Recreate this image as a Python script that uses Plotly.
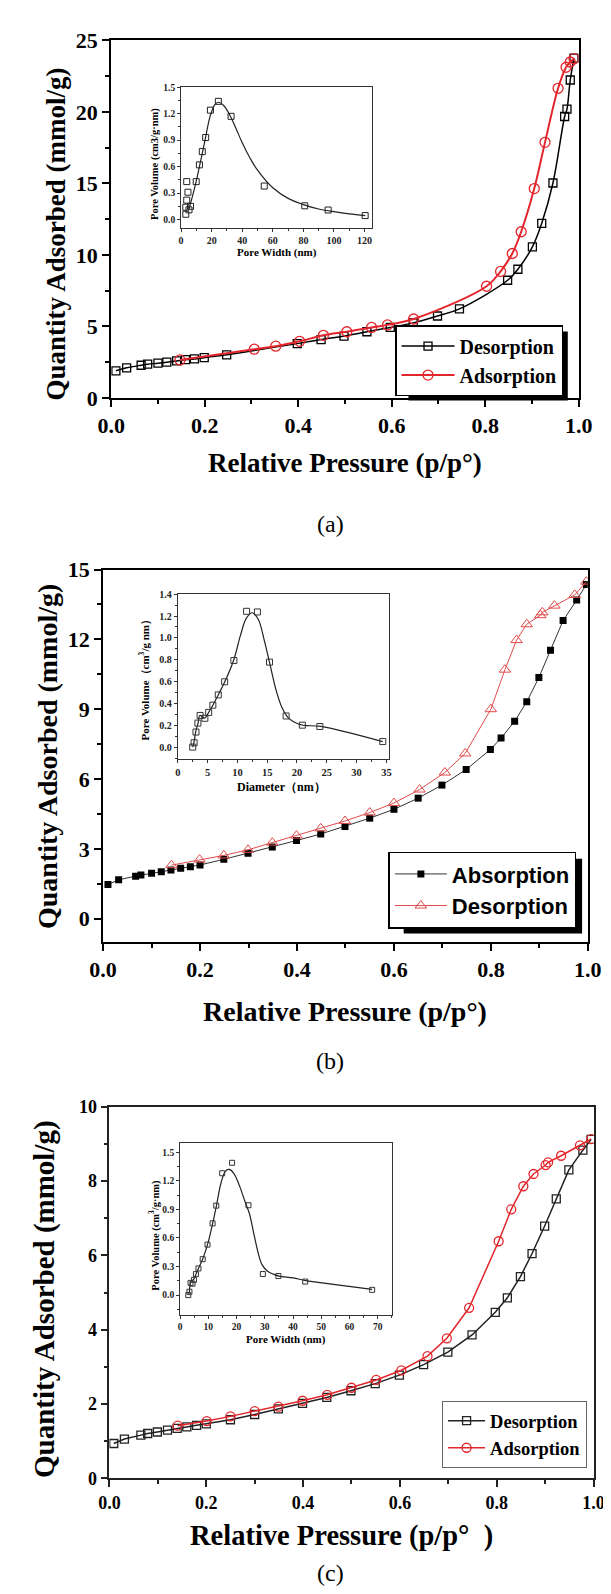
import plotly.graph_objects as go

W, H = 611, 1594

# ---------------- Panel (a) data ----------------
A_DES_X = [0.010, 0.033, 0.064, 0.078, 0.100, 0.119, 0.140, 0.159, 0.178, 0.199, 0.247,
           0.398, 0.449, 0.498, 0.547, 0.597, 0.646, 0.698, 0.745, 0.848, 0.870, 0.901,
           0.921, 0.945, 0.970, 0.975, 0.982, 0.990]
A_DES_Y = [1.90, 2.11, 2.29, 2.36, 2.43, 2.50, 2.59, 2.68, 2.73, 2.82, 3.02,
           3.80, 4.08, 4.33, 4.63, 4.93, 5.25, 5.73, 6.23, 8.23, 9.00, 10.56,
           12.21, 15.03, 19.68, 20.19, 22.23, 23.76]
A_ADS_X = [0.147, 0.306, 0.352, 0.403, 0.454, 0.504, 0.557, 0.591, 0.647, 0.803, 0.833,
           0.858, 0.877, 0.905, 0.928, 0.956, 0.973, 0.982, 0.990]
A_ADS_Y = [2.66, 3.41, 3.62, 3.96, 4.38, 4.63, 4.93, 5.11, 5.52, 7.81, 8.85,
           10.10, 11.62, 14.64, 17.87, 21.65, 23.12, 23.49, 23.72]
A_IN_X = [3.1, 3.1, 3.7, 3.7, 4.5, 5.2, 6.2, 9.9, 12.0, 13.9, 16.1, 19.2, 24.4, 32.7,
          54.4, 80.9, 96.2, 120.4]
A_IN_Y = [0.06, 0.14, 0.22, 0.43, 0.31, 0.11, 0.15, 0.43, 0.62, 0.77, 0.93, 1.24, 1.34,
          1.17, 0.38, 0.156, 0.108, 0.045]
A_FIT_X = [5.2, 8, 10, 12, 14, 16, 19, 22, 24.5, 28, 32, 36, 40, 45, 50, 60, 70, 80, 90,
           100, 110, 120.5]
A_FIT_Y = [0.12, 0.30, 0.44, 0.60, 0.76, 0.93, 1.17, 1.30, 1.33, 1.29, 1.18, 1.03, 0.87,
           0.70, 0.56, 0.36, 0.24, 0.17, 0.12, 0.09, 0.065, 0.045]

# ---------------- Panel (b) data ----------------
B_ABS_X = [0.010, 0.032, 0.067, 0.078, 0.100, 0.120, 0.140, 0.160, 0.180, 0.200, 0.249,
           0.299, 0.349, 0.399, 0.449, 0.499, 0.550, 0.600, 0.650, 0.699, 0.749, 0.799,
           0.821, 0.849, 0.874, 0.899, 0.923, 0.949, 0.977, 0.997]
B_ABS_Y = [1.47, 1.67, 1.83, 1.88, 1.95, 2.02, 2.09, 2.17, 2.23, 2.31, 2.55,
           2.81, 3.08, 3.36, 3.64, 3.96, 4.32, 4.70, 5.18, 5.74, 6.41, 7.27,
           7.76, 8.48, 9.32, 10.36, 11.53, 12.81, 13.69, 14.36]
B_DES_X = [0.141, 0.199, 0.249, 0.299, 0.349, 0.399, 0.449, 0.499, 0.550, 0.600, 0.653,
           0.705, 0.747, 0.800, 0.829, 0.853, 0.874, 0.902, 0.906, 0.931, 0.973, 0.997]
B_DES_Y = [2.30, 2.54, 2.72, 2.96, 3.27, 3.57, 3.88, 4.20, 4.56, 4.97, 5.55,
           6.28, 7.10, 9.00, 10.70, 11.97, 12.65, 13.04, 13.16, 13.45, 13.91, 14.48]
B_IN_X = [2.5, 2.73, 3.05, 3.37, 3.74, 4.54, 5.18, 5.88, 6.79, 7.86, 9.41, 11.54, 13.36,
          15.39, 18.17, 20.9, 23.84, 34.4]
B_IN_Y = [0.0, 0.04, 0.138, 0.22, 0.29, 0.264, 0.318, 0.384, 0.478, 0.598, 0.793, 1.243,
          1.237, 0.778, 0.285, 0.201, 0.189, 0.051]
B_FIT_X = [2.5, 2.7, 3.0, 3.4, 3.7, 4.5, 5.2, 5.9, 6.8, 7.9, 9.4, 10.5, 11.5, 12.5, 13.5,
           14.5, 15.5, 16.5, 17.5, 18.5, 19.5, 21, 24, 34.4]
B_FIT_Y = [0.0, 0.04, 0.14, 0.22, 0.29, 0.265, 0.32, 0.385, 0.48, 0.60, 0.80, 1.02, 1.18,
           1.23, 1.17, 0.98, 0.75, 0.52, 0.36, 0.27, 0.23, 0.20, 0.19, 0.05]

# ---------------- Panel (c) data ----------------
C_DES_X = [0.009, 0.031, 0.065, 0.079, 0.099, 0.120, 0.140, 0.160, 0.180, 0.200, 0.250,
           0.300, 0.349, 0.399, 0.449, 0.499, 0.549, 0.599, 0.649, 0.699, 0.749, 0.797,
           0.822, 0.849, 0.873, 0.899, 0.923, 0.949, 0.978, 0.995]
C_DES_Y = [0.94, 1.06, 1.165, 1.21, 1.25, 1.30, 1.35, 1.39, 1.43, 1.47, 1.58,
           1.72, 1.87, 2.02, 2.18, 2.36, 2.55, 2.78, 3.06, 3.40, 3.86, 4.47,
           4.86, 5.43, 6.05, 6.79, 7.52, 8.30, 8.83, 9.12]
C_ADS_X = [0.141, 0.201, 0.250, 0.300, 0.349, 0.399, 0.450, 0.500, 0.551, 0.603, 0.657,
           0.697, 0.743, 0.804, 0.830, 0.855, 0.876, 0.901, 0.906, 0.933, 0.972, 0.995]
C_ADS_Y = [1.42, 1.545, 1.67, 1.81, 1.93, 2.09, 2.25, 2.44, 2.65, 2.91, 3.29,
           3.77, 4.59, 6.38, 7.24, 7.86, 8.19, 8.43, 8.50, 8.68, 8.96, 9.13]
C_IN_X = [2.9, 3.3, 3.7, 4.4, 4.9, 5.6, 6.5, 8.0, 9.7, 11.5, 12.8, 14.9, 18.4, 24.2, 29.3,
          34.8, 44.3, 68.0]
C_IN_Y = [0.0, 0.035, 0.128, 0.12, 0.16, 0.22, 0.28, 0.377, 0.53, 0.754, 0.94, 1.28, 1.39,
          0.944, 0.221, 0.20, 0.142, 0.055]
C_FIT_X = [3, 3.3, 3.7, 4.9, 5.6, 6.5, 8, 9.7, 11.5, 12.8, 14.5, 16, 17.3, 19, 21, 23,
           24.5, 26, 27.5, 29, 31, 33, 35, 40, 45, 55, 68]
C_FIT_Y = [0.0, 0.04, 0.13, 0.17, 0.22, 0.28, 0.38, 0.53, 0.75, 0.93, 1.18, 1.30, 1.32,
           1.28, 1.15, 0.98, 0.86, 0.66, 0.46, 0.32, 0.25, 0.22, 0.20, 0.18, 0.15, 0.11, 0.06]

RED = "#e3262b"
SERIF = "Liberation Serif"
SANS = "Liberation Sans"


def px_x(v):
    return v / W


def px_y(v):
    return 1 - v / H


def dom_x(a, b):
    return [px_x(a), px_x(b)]


def dom_y(top, bottom):
    return [px_y(bottom), px_y(top)]


fig = go.Figure()

# ---- main traces ----
fig.add_trace(go.Scatter(x=A_DES_X, y=A_DES_Y, name="Desorption", mode="lines+markers",
                         line=dict(color="black", width=1.5, shape="spline"),
                         marker=dict(symbol="square-open", size=8, color="black", line=dict(width=1.3)),
                         xaxis="x", yaxis="y", legend="legend"))
fig.add_trace(go.Scatter(x=A_ADS_X, y=A_ADS_Y, name="Adsorption", mode="lines+markers",
                         line=dict(color=RED, width=2, shape="spline"),
                         marker=dict(symbol="circle-open", size=10, color=RED, line=dict(width=1.3)),
                         xaxis="x", yaxis="y", legend="legend"))
fig.add_trace(go.Scatter(x=A_FIT_X, y=A_FIT_Y, mode="lines", showlegend=False,
                         line=dict(color="#222", width=1.2, shape="spline"),
                         xaxis="x2", yaxis="y2"))
fig.add_trace(go.Scatter(x=A_IN_X, y=A_IN_Y, mode="markers", showlegend=False,
                         marker=dict(symbol="square-open", size=6, color="#222", line=dict(width=1)),
                         xaxis="x2", yaxis="y2"))

fig.add_trace(go.Scatter(x=B_ABS_X, y=B_ABS_Y, name="Absorption", mode="lines+markers",
                         line=dict(color="#333", width=1),
                         marker=dict(symbol="square", size=7, color="black"),
                         xaxis="x3", yaxis="y3", legend="legend2"))
fig.add_trace(go.Scatter(x=B_DES_X, y=B_DES_Y, name="Desorption", mode="lines+markers",
                         line=dict(color="#e04a4a", width=1),
                         marker=dict(symbol="triangle-up-open", size=10, color="#e04a4a", line=dict(width=1)),
                         xaxis="x3", yaxis="y3", legend="legend2"))
fig.add_trace(go.Scatter(x=B_FIT_X, y=B_FIT_Y, mode="lines", showlegend=False,
                         line=dict(color="#222", width=1.2, shape="spline"),
                         xaxis="x4", yaxis="y4"))
fig.add_trace(go.Scatter(x=B_IN_X, y=B_IN_Y, mode="markers", showlegend=False,
                         marker=dict(symbol="square-open", size=6, color="#333", line=dict(width=1)),
                         xaxis="x4", yaxis="y4"))

fig.add_trace(go.Scatter(x=C_DES_X, y=C_DES_Y, name="Desorption", mode="lines+markers",
                         line=dict(color="#222", width=1.5),
                         marker=dict(symbol="square-open", size=8, color="#222", line=dict(width=1.3)),
                         xaxis="x5", yaxis="y5", legend="legend3"))
fig.add_trace(go.Scatter(x=C_ADS_X, y=C_ADS_Y, name="Adsorption", mode="lines+markers",
                         line=dict(color=RED, width=1.5),
                         marker=dict(symbol="circle-open", size=9, color=RED, line=dict(width=1.3)),
                         xaxis="x5", yaxis="y5", legend="legend3"))
fig.add_trace(go.Scatter(x=C_FIT_X, y=C_FIT_Y, mode="lines", showlegend=False,
                         line=dict(color="#222", width=1.2, shape="spline"),
                         xaxis="x6", yaxis="y6"))
fig.add_trace(go.Scatter(x=C_IN_X, y=C_IN_Y, mode="markers", showlegend=False,
                         marker=dict(symbol="square-open", size=5, color="#333", line=dict(width=1)),
                         xaxis="x6", yaxis="y6"))


def main_axis(domain, rng, dtick, mdtick, anchor, size, fmt=None, lw=2, color="black"):
    d = dict(domain=domain, range=rng, anchor=anchor, showline=True, linecolor=color, linewidth=lw,
             mirror=True, ticks="outside", ticklen=7, tickwidth=lw, tickcolor=color,
             dtick=dtick, tick0=0, showgrid=False, zeroline=False,
             tickfont=dict(family=SERIF, size=size, weight="bold", color="black"),
             minor=dict(dtick=mdtick, ticks="outside", ticklen=4, tickwidth=lw, tickcolor=color, showgrid=False))
    if fmt:
        d["tickformat"] = fmt
    return d


def inset_axis(domain, rng, dtick, mdtick, anchor, size, fmt=None):
    d = dict(domain=domain, range=rng, anchor=anchor, showline=True, linecolor="#333", linewidth=1,
             mirror=True, ticks="outside", ticklen=3, tickwidth=1, tickcolor="#333",
             dtick=dtick, tick0=0, showgrid=False, zeroline=False,
             tickfont=dict(family=SERIF, size=size, weight="bold", color="#222"),
             minor=dict(dtick=mdtick, ticks="outside", ticklen=2, tickwidth=1, tickcolor="#333", showgrid=False))
    if fmt:
        d["tickformat"] = fmt
    return d


# legend geometry (pixels): right edge, vertical centre
LA_R, LA_C = 567, 346
LB_R, LB_C = 581, 884
LC_R, LC_C = 592, 1437

layout = dict(
    width=W, height=H, autosize=False,
    margin=dict(l=0, r=0, t=0, b=0),
    paper_bgcolor="white", plot_bgcolor="rgba(0,0,0,0)",
    xaxis=main_axis(dom_x(93.5, 583.4), [0, 1], 0.2, 0.1, "y", 22, ".1f"),
    yaxis=main_axis(dom_y(20.7, 384), [0, 25], 5, 2.5, "x", 22),
    xaxis2=inset_axis(dom_x(166.7, 367), [0, 125], 20, 10, "y2", 10),
    yaxis2=inset_axis(dom_y(68.3, 211.7), [-0.1, 1.5], 0.3, 0.15, "x2", 9.5, ".1f"),
    xaxis3=main_axis(dom_x(85, 593), [0, 1], 0.2, 0.1, "y3", 22, ".1f"),
    yaxis3=main_axis(dom_y(558.3, 936.7), [-1, 15], 3, 1.5, "x3", 22),
    xaxis4=inset_axis(dom_x(163.3, 385), [0, 35.5], 5, 2.5, "y4", 10.5),
    yaxis4=inset_axis(dom_y(583.3, 750.7), [-0.108, 1.4], 0.2, 0.1, "x4", 10, ".1f"),
    xaxis5=main_axis(dom_x(91.6, 599), [0, 1], 0.2, 0.1, "y5", 18, ".1f", lw=1.6, color="#222"),
    yaxis5=main_axis(dom_y(1104, 1481.7), [0, 10], 2, 1, "x5", 18, lw=1.6, color="#222"),
    xaxis6=inset_axis(dom_x(165.7, 387.7), [0, 75], 10, 5, "y6", 9.5),
    yaxis6=inset_axis(dom_y(1140.7, 1315.7), [-0.21, 1.6], 0.3, 0.15, "x6", 9.5, ".1f"),
    legend=dict(x=px_x(LA_R), xanchor="right", y=px_y(LA_C), yanchor="middle",
                bgcolor="white", bordercolor="black", borderwidth=1.5,
                font=dict(family=SERIF, size=20, weight="bold", color="black"),
                tracegroupgap=0, itemwidth=53),
    legend2=dict(x=px_x(LB_R), xanchor="right", y=px_y(LB_C), yanchor="middle",
                 bgcolor="white", bordercolor="black", borderwidth=1.5,
                 font=dict(family=SANS, size=22, weight="bold", color="black"),
                 tracegroupgap=0, itemwidth=52),
    legend3=dict(x=px_x(LC_R), xanchor="right", y=px_y(LC_C), yanchor="middle",
                 bgcolor="white", bordercolor="#666", borderwidth=1.2,
                 font=dict(family=SERIF, size=18.5, weight="bold", color="black"),
                 tracegroupgap=0, itemwidth=37),
    showlegend=True,
)
fig.update_layout(**layout)

# legend drop shadows (estimated legend box sizes: a 168x71, b 187x76)
fig.add_shape(type="rect", xref="paper", yref="paper",
              x0=px_x(LA_R - 168 + 6), x1=px_x(LA_R + 5),
              y0=px_y(LA_C + 35.5 + 5), y1=px_y(LA_C - 35.5 + 6),
              fillcolor="black", line=dict(width=0), layer="above")
fig.add_shape(type="rect", xref="paper", yref="paper",
              x0=px_x(LB_R - 187 + 6), x1=px_x(LB_R + 6),
              y0=px_y(LB_C + 38 + 6), y1=px_y(LB_C - 38 + 6),
              fillcolor="black", line=dict(width=0), layer="above")


def ann(text, x, y, size, angle=0, bold=True, family=SERIF, color="black"):
    fig.add_annotation(text=text, x=px_x(x), y=px_y(y), xref="paper", yref="paper",
                       showarrow=False, textangle=angle, xanchor="center", yanchor="middle",
                       font=dict(family=family, size=size, color=color,
                                 weight="bold" if bold else "normal"))


# main axis titles
ann("Quantity Adsorbed (mmol/g)", 36, 217.5, 27, -90)
ann("Relative Pressure (p/p°)", 338, 450, 27)
ann("(a)", 323, 512, 24, bold=False)

ann("Quantity Adsorbed (mmol/g)", 27, 748, 28, -90)
ann("Relative Pressure (p/p°)", 339, 1007, 28)
ann("(b)", 323, 1058, 24, bold=False)

ann("Quantity Adsorbed (mmol/g)", 23.5, 1299, 29, -90)
ann("Relative Pressure (p/p°  )", 335, 1540, 28.5)
ann("(c)", 323, 1578, 24, bold=False)

# inset titles
ann("Pore Width (nm)", 267, 236.7, 11)
ann("Pore Volume (cm3/g·nm)", 140, 146.7, 10.5, -90)
ann("Diameter（nm）", 272, 779.3, 12)
ann("Pore Volume（cm<sup>3</sup>/g nm）", 128.3, 667.5, 11, -90)
ann("Pore Width (nm)", 276.7, 1340.7, 11)
ann("Pore Volume (cm<sup>3</sup>/g·nm)", 138.4, 1235, 10.5, -90)

fig.write_html("out.html")
